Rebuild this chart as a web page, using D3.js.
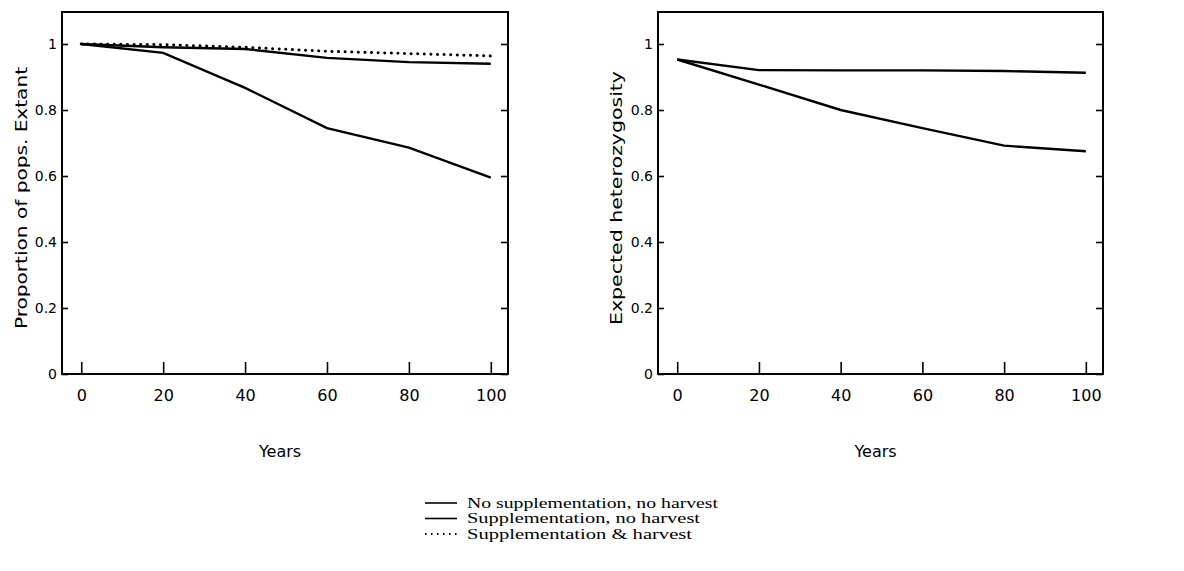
<!DOCTYPE html>
<html>
<head>
<meta charset="utf-8">
<script src="https://cdn.jsdelivr.net/npm/d3@7"></script>
<style>
  body { margin: 0; background: #fff; }
  .axis text { font-family: "DejaVu Sans", sans-serif; font-size: 14px; fill: #000; }
  .axis path, .axis line { stroke: #000; stroke-width: 1.6; }
  .ttl { font-family: "DejaVu Sans", sans-serif; font-size: 16px; fill: #000; }
  .leg { font-family: "Liberation Serif", serif; font-size: 15px; fill: #000; }
</style>
</head>
<body>
<svg width="1184" height="571"></svg>
<script>
var years = [0, 20, 40, 60, 80, 100];
var yTicks = [0, 0.2, 0.4, 0.6, 0.8, 1];

// proportion of populations extant
var extantNoSupp = [1.0, 0.973, 0.867, 0.745, 0.686, 0.595];
var extantSupp = [1.0, 0.99, 0.985, 0.958, 0.945, 0.94];
var extantSuppHarv = [1.0, 0.998, 0.99, 0.978, 0.971, 0.964];

// expected heterozygosity
var hetNoSupp = [0.953, 0.877, 0.80, 0.745, 0.692, 0.675];
var hetSupp = [0.953, 0.921, 0.92, 0.92, 0.918, 0.913];

var seriesNames = ["No supplementation, no harvest", "Supplementation, no harvest", "Supplementation & harvest"];
var legendWidths = [251, 233, 225];

var svg = d3.select("svg");

var panels = [
  {left: 62, right: 508, title: "Proportion of pops. Extant", titleX: 21, titleLen: 262,
   series: [extantNoSupp, extantSupp, extantSuppHarv]},
  {left: 658, right: 1103, title: "Expected heterozygosity", titleX: 616, titleLen: 254,
   series: [hetNoSupp, hetSupp]}
];
var plotTop = 12, plotBottom = 374;

panels.forEach(function(p) {
  var x = d3.scaleLinear().domain([-4.7, 104.2]).range([p.left, p.right]);
  var y = d3.scaleLinear().domain([0, 1.097]).range([plotBottom, plotTop]);
  var g = svg.append("g");

  // frame
  g.append("rect")
      .attr("x", p.left).attr("y", plotTop)
      .attr("width", p.right - p.left).attr("height", plotBottom - plotTop)
      .attr("fill", "none").attr("stroke", "#000").attr("stroke-width", 2);

  g.append("g").attr("class", "axis")
      .attr("transform", "translate(" + p.left + ",0)")
      .call(d3.axisLeft(y).tickValues(yTicks).tickSize(-6).tickPadding(5)
              .tickFormat(d3.format("~g")))
      .call(s => s.select(".domain").remove());

  g.append("g").attr("class", "axis")
      .attr("transform", "translate(" + p.right + ",0)")
      .call(d3.axisRight(y).tickValues(yTicks).tickSize(-7).tickFormat(""))
      .call(s => s.select(".domain").remove());

  g.append("g").attr("class", "axis")
      .attr("transform", "translate(0," + plotBottom + ")")
      .call(d3.axisBottom(x).tickValues(years).tickSize(-12).tickPadding(16))
      .call(s => s.select(".domain").remove())
      .selectAll("text").style("font-size", "16px");

  g.append("text").attr("class", "ttl")
      .attr("x", (p.left + p.right) / 2 - 5).attr("y", 457)
      .attr("text-anchor", "middle").text("Years");

  g.append("text").attr("class", "ttl")
      .attr("transform", "translate(" + p.titleX + ",198) rotate(-90)")
      .attr("text-anchor", "middle").attr("dy", "0.35em")
      .attr("textLength", p.titleLen).attr("lengthAdjust", "spacingAndGlyphs")
      .text(p.title);

  var line = d3.line()
      .x(function(d, i) { return x(years[i]); })
      .y(function(d) { return y(d); });

  p.series.forEach(function(vals, k) {
    g.append("path")
        .datum(vals)
        .attr("d", line)
        .attr("fill", "none")
        .attr("stroke", "#000")
        .attr("stroke-width", k == 2 ? 3 : 2.4)
        .attr("stroke-dasharray", k == 2 ? "0.1,6.5" : null)
        .attr("stroke-linecap", k == 2 ? "round" : "butt");
  });
});

// legend
var leg = svg.append("g");
seriesNames.forEach(function(name, i) {
  var yy = 503 + i * 15.5;
  leg.append("line")
      .attr("x1", 425).attr("x2", 457)
      .attr("y1", yy).attr("y2", yy)
      .attr("stroke", "#000")
      .attr("stroke-width", i == 2 ? 1.8 : 1.6)
      .attr("stroke-dasharray", i == 2 ? "1.5,4.5" : null);
  leg.append("text").attr("class", "leg")
      .attr("x", 467).attr("y", yy).attr("dy", "0.3em")
      .attr("textLength", legendWidths[i]).attr("lengthAdjust", "spacingAndGlyphs")
      .text(name);
});
</script>
</body>
</html>
